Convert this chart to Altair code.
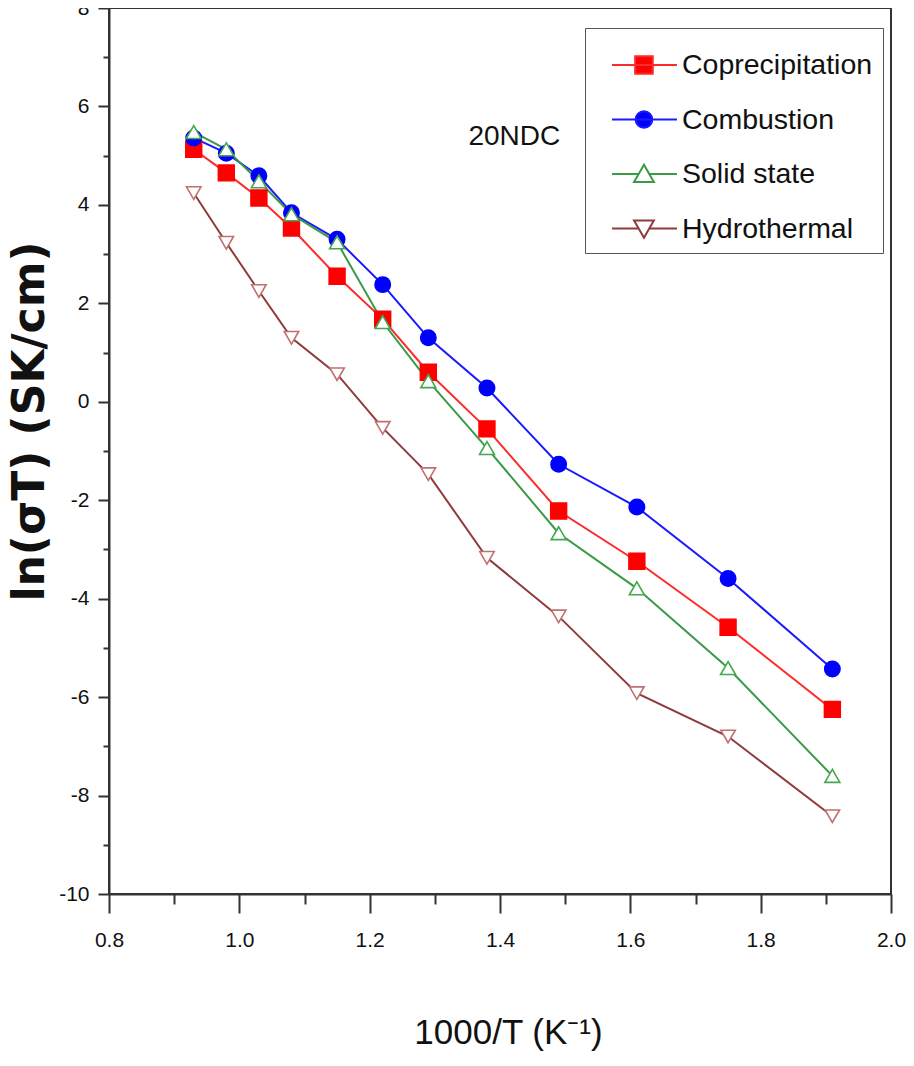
import altair as alt
import pandas as pd

# ---- data ----
x_vals = [0.93, 0.98, 1.03, 1.08, 1.15, 1.22, 1.29, 1.38, 1.49, 1.61, 1.75, 1.91]
series_names = ["Coprecipitation", "Combustion", "Solid state", "Hydrothermal"]
coprecipitation = [5.13, 4.65, 4.14, 3.53, 2.55, 1.68, 0.60, -0.55, -2.22, -3.24, -4.58, -6.25]
combustion = [5.36, 5.05, 4.59, 3.84, 3.30, 2.38, 1.30, 0.28, -1.27, -2.14, -3.59, -5.43]
solid_state = [5.48, 5.13, 4.48, 3.81, 3.24, 1.62, 0.42, -0.94, -2.67, -3.79, -5.41, -7.60]
hydrothermal = [4.24, 3.23, 2.25, 1.30, 0.56, -0.53, -1.47, -3.17, -4.36, -5.92, -6.80, -8.42]

x_major = [0.8, 1.0, 1.2, 1.4, 1.6, 1.8, 2.0]
x_minor = [0.9, 1.1, 1.3, 1.5, 1.7, 1.9]
y_major = [-10, -8, -6, -4, -2, 0, 2, 4, 6, 8]
y_minor = [-9, -7, -5, -3, -1, 1, 3, 5, 7]

ann_x = [1.422]
ann_y = [5.22]
ann_text = ["20NDC"]

line_colors = ["#ff2a2a", "#1a1aff", "#3a9a45", "#8f3b3b"]
point_stroke = ["#ff0000", "#0000ff", "#45a84f", "#c07070"]
point_fill = ["#ff0000", "#0000ff", "#ffffff", "#ffffff"]
point_shapes = ["square", "circle", "triangle-up", "triangle-down"]
point_sizes = [250, 210, 330, 330]

FONT = "Liberation Sans, Arial, Helvetica"

# ---- tidy table ----
rows = []
for name, vals in zip(series_names, [coprecipitation, combustion, solid_state, hydrothermal]):
    for xv, yv in zip(x_vals, vals):
        rows.append({"x": xv, "y": yv, "series": name})
df = pd.DataFrame(rows)
ann = pd.DataFrame({"x": ann_x, "y": ann_y, "t": ann_text})

xscale = alt.Scale(domain=[0.8, 2.0], nice=False, zero=False)
yscale = alt.Scale(domain=[-10, 8], nice=False, zero=False)

x_axis = alt.Axis(
    values=x_major, labelExpr="format(datum.value, '.1f')", title="1000/T (K\u207b\u00b9)",
    orient="bottom", grid=False, tickSize=19, tickWidth=2, tickColor="#333",
    domainColor="#333", domainWidth=2, labelFont=FONT, labelFontSize=21,
    labelColor="#111", labelPadding=16, labelBaseline="top", labelFlush=False,
    titleFont=FONT, titleFontSize=35, titleFontWeight="normal", titleColor="#111",
    titleX=399, titleY=149, titleBaseline="alphabetic", titleAlign="center",
)
y_axis = alt.Axis(
    values=y_major, labelExpr="'' + datum.value", title="ln(\u03c3T) (SK/cm)",
    orient="left", grid=False, tickSize=11, tickWidth=2, tickColor="#333",
    domainColor="#333", domainWidth=2, labelFont=FONT, labelFontSize=21,
    labelColor="#111", labelPadding=9, labelFlush=False,
    titleFont="DejaVu Sans", titleFontSize=44, titleFontWeight="bold", titleColor="#111",
    titleX=-66, titleY=413, titleBaseline="alphabetic", titleAlign="center", titleAngle=270,
)
x_axis_minor = alt.Axis(values=x_minor, labels=False, title=None, orient="bottom", grid=False,
                        tickSize=10, tickWidth=2, tickColor="#333", domain=False)
y_axis_minor = alt.Axis(values=y_minor, labels=False, title=None, orient="left", grid=False,
                        tickSize=6, tickWidth=2, tickColor="#333", domain=False)

lines = alt.Chart(df).mark_line(strokeWidth=2).encode(
    x=alt.X("x:Q", scale=xscale, axis=x_axis),
    y=alt.Y("y:Q", scale=yscale, axis=y_axis),
    color=alt.Color("series:N", scale=alt.Scale(domain=series_names, range=line_colors), legend=None),
    detail="series:N",
)

points = alt.Chart(df).mark_point(filled=False, strokeWidth=1.6, opacity=1).encode(
    x=alt.X("x:Q", scale=xscale, axis=None),
    y=alt.Y("y:Q", scale=yscale, axis=None),
    color=alt.Color("series:N", scale=alt.Scale(domain=series_names, range=point_stroke), legend=None),
    fill=alt.Fill("series:N", scale=alt.Scale(domain=series_names, range=point_fill), legend=None),
    shape=alt.Shape("series:N", scale=alt.Scale(domain=series_names, range=point_shapes), legend=None),
    size=alt.Size("series:N", scale=alt.Scale(domain=series_names, range=point_sizes), legend=None),
)

# legend symbols: line with marker (path units = sqrt(size)/2 px)
cx, m = 1.18, 0.4
r = 0.38
lg_paths = [
    f"M-0.27,0H2.68M{cx-m},{-m}H{cx+m}V{m}H{cx-m}Z",
    f"M-0.27,0H2.68M{cx-r},0A{r},{r} 0 1,0 {cx+r},0A{r},{r} 0 1,0 {cx-r},0Z",
    f"M-0.27,0H{cx-0.24}M{cx+0.24},0H2.68M{cx},-0.42L{cx+0.45},0.36L{cx-0.45},0.36Z",
    f"M-0.27,0H{cx-0.24}M{cx+0.24},0H2.68M{cx},0.42L{cx+0.45},-0.36L{cx-0.45},-0.36Z",
]
legend_stroke = ["#ff2a2a", "#1a1aff", "#3a9a45", "#8f3b3b"]
leg = alt.Legend(
    orient="none", legendX=476, legendY=20, title=" ", titleFontSize=3, titlePadding=1,
    padding=10, fillColor="white", strokeColor="#555", symbolSize=1936,
    symbolStrokeWidth=2, symbolOpacity=1, labelFont=FONT, labelFontSize=28.5, labelColor="#111",
    labelOffset=41, labelLimit=500, rowPadding=16.5, cornerRadius=0,
)
legend_layer = alt.Chart(df).transform_filter("false").mark_point(
    filled=False, size=1936, strokeWidth=2, opacity=1
).encode(
    color=alt.Color("series:N", scale=alt.Scale(domain=series_names, range=legend_stroke), legend=leg),
    fill=alt.Fill("series:N", scale=alt.Scale(domain=series_names, range=point_fill), legend=leg),
    shape=alt.Shape("series:N", scale=alt.Scale(domain=series_names, range=lg_paths), legend=leg),
)

minor = alt.Chart(df).mark_point(opacity=0).encode(
    x=alt.X("x:Q", scale=xscale, axis=x_axis_minor),
    y=alt.Y("y:Q", scale=yscale, axis=y_axis_minor),
)

label = alt.Chart(ann).mark_text(font=FONT, fontSize=28, color="#111", align="center",
                                 baseline="alphabetic").encode(
    x=alt.X("x:Q", scale=xscale, axis=None),
    y=alt.Y("y:Q", scale=yscale, axis=None),
    text="t:N",
)

chart = alt.layer(minor, lines, points, label, legend_layer).resolve_scale(
    color="independent", fill="independent", shape="independent", size="independent"
).resolve_axis(x="independent", y="independent").properties(
    width=782, height=886,
    autosize=alt.AutoSizeParams(type="none"),
    padding={"left": 101, "top": 0, "right": 15, "bottom": 160},
    background="white",
).configure_view(stroke="#333", strokeWidth=2)

chart.save("out.html", embed_options={"renderer": "svg", "actions": False})
